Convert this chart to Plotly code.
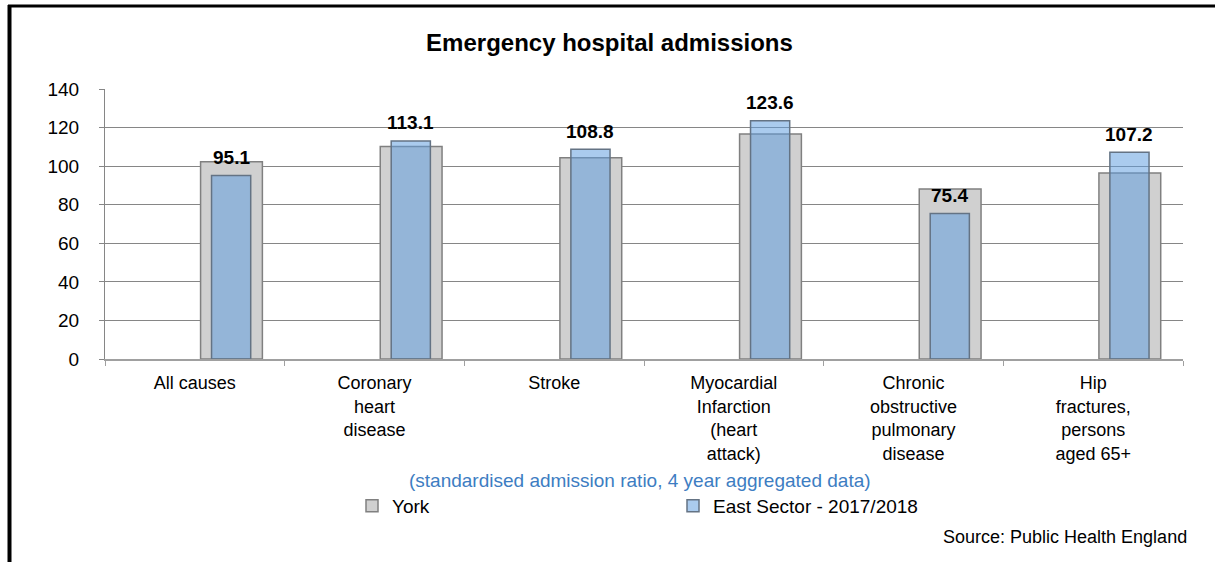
import plotly.graph_objects as go

# categories and values
categories = [
    "All causes",
    "Coronary<br>heart<br>disease",
    "Stroke",
    "Myocardial<br>Infarction<br>(heart<br>attack)",
    "Chronic<br>obstructive<br>pulmonary<br>disease",
    "Hip<br>fractures,<br>persons<br>aged 65+",
]
york = [102.3, 110.2, 104.3, 116.7, 88.2, 96.5]
east_sector = [95.1, 113.1, 108.8, 123.6, 75.4, 107.2]
y_ticks = [0, 20, 40, 60, 80, 100, 120, 140]

FONT = "Liberation Sans, Arial, sans-serif"

# plot area in pixels (used to place frame lines and notes)
W, H = 1215, 562
L, R, T, B = 105, 32, 89, 203
pw, ph = W - L - R, H - T - B


def px_x(px):
    return (px - L) / pw


def px_y(py):
    return (H - B - py) / ph


fig = go.Figure()
fig.add_trace(go.Bar(
    x=categories, y=york, name="York",
    offset=0.032, width=0.344,
    marker=dict(color="rgb(208,208,208)", line=dict(color="rgb(128,128,128)", width=1.5)),
))
fig.add_trace(go.Bar(
    x=categories, y=east_sector, name="East Sector - 2017/2018",
    offset=0.093, width=0.218,
    marker=dict(color="rgba(94,157,223,0.53)", line=dict(color="rgb(100,115,132)", width=1.5)),
))

# value labels above the East Sector bars
for cat, val in zip(categories, east_sector):
    fig.add_annotation(
        x=cat, y=val, text=f"<b>{val:.1f}</b>", showarrow=False,
        xref="x", yref="y", xshift=0.202 * pw / 6, yshift=18, yanchor="middle",
        font=dict(family=FONT, size=19, color="black"),
    )

fig.add_annotation(
    x=px_x(640), y=px_y(480), xref="paper", yref="paper", showarrow=False,
    xanchor="center", yanchor="middle",
    text="(standardised admission ratio, 4 year aggregated data)",
    font=dict(family=FONT, size=19, color="#3D7DC2"),
)
fig.add_annotation(
    x=px_x(1189), y=px_y(537), xref="paper", yref="paper", showarrow=False,
    xanchor="right", yanchor="middle", text="Source: Public Health England",
    font=dict(family=FONT, size=18, color="black"),
)

# black frame lines on top and left edges
fig.add_shape(type="line", xref="paper", yref="paper",
              x0=px_x(8), x1=px_x(1220), y0=px_y(6), y1=px_y(6),
              line=dict(color="black", width=3))
fig.add_shape(type="line", xref="paper", yref="paper",
              x0=px_x(9.5), x1=px_x(9.5), y0=px_y(5), y1=px_y(570),
              line=dict(color="black", width=4))

fig.update_layout(
    width=W, height=H,
    margin=dict(l=L, r=R, t=T, b=B),
    paper_bgcolor="white", plot_bgcolor="white",
    barmode="overlay",
    font=dict(family=FONT, size=19, color="black"),
    title=dict(text="<b>Emergency hospital admissions</b>", x=609.5 / W,
               xanchor="center", y=1 - 43 / H, yanchor="middle",
               font=dict(family=FONT, size=24, color="black")),
    showlegend=True,
    legend=dict(orientation="h", x=px_x(352), y=px_y(506), xanchor="left", yanchor="middle",
                entrywidth=276, entrywidthmode="pixels", traceorder="normal",
                font=dict(family=FONT, size=19, color="black"), bgcolor="rgba(0,0,0,0)"),
    xaxis=dict(
        type="category", showline=True, linecolor="#A0A0A0", linewidth=1.5,
        ticks="outside", tickson="boundaries", ticklen=5, tickcolor="#A0A0A0",
        showgrid=False, ticklabelstandoff=7,
        tickfont=dict(family=FONT, size=18, color="black"),
    ),
    yaxis=dict(
        range=[0, 140], tickvals=y_ticks, showline=True, linecolor="#868686", linewidth=1,
        ticks="outside", ticklen=5, tickcolor="#868686", ticklabelstandoff=16,
        showgrid=True, gridcolor="#868686", gridwidth=1, zeroline=False,
        tickfont=dict(family=FONT, size=19, color="black"),
    ),
)

# drop the default page margin so the figure sits at the window corner
fig.write_html("out.html", config={"displayModeBar": False},
               post_script="document.body.style.margin='0';")
